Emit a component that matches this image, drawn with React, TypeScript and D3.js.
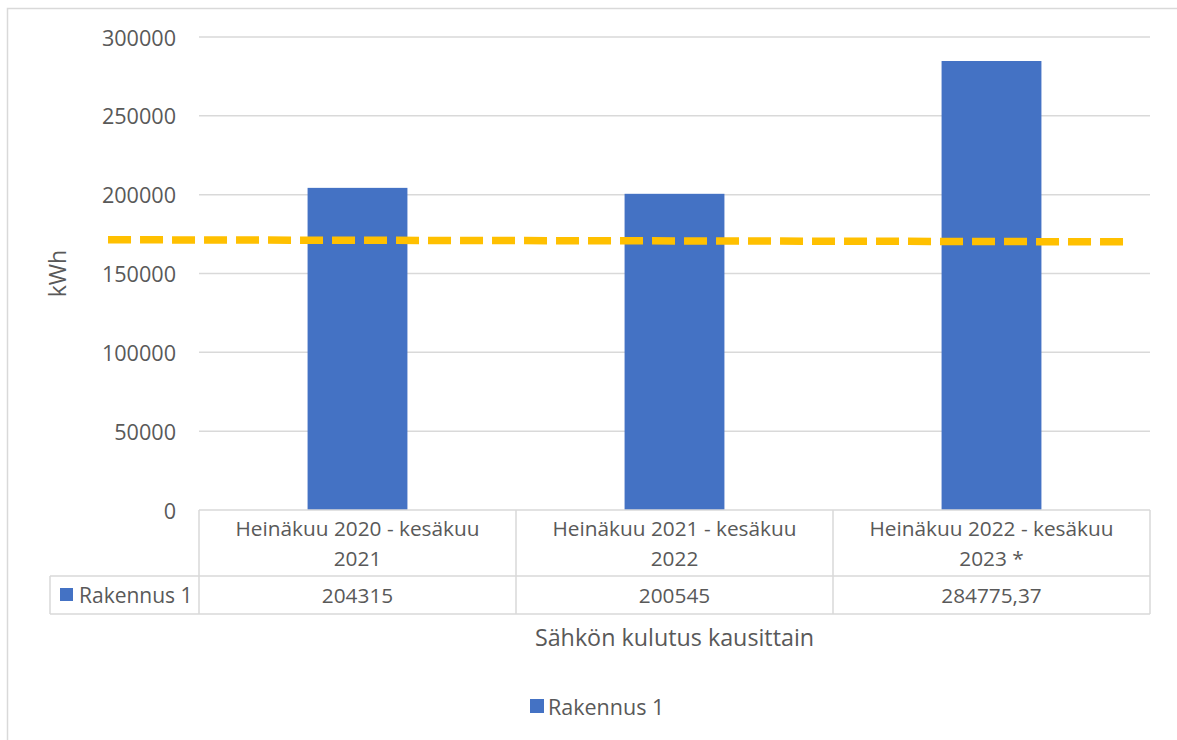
import React from "react";
import * as d3 from "d3";

const categories = [
  "Heinäkuu 2020 - kesäkuu 2021",
  "Heinäkuu 2021 - kesäkuu 2022",
  "Heinäkuu 2022 - kesäkuu 2023 *",
];
const seriesName = "Rakennus 1";
const values = [204315, 200545, 284775.37];
const valueLabels = ["204315", "200545", "284775,37"];
const yTicks = [0, 50000, 100000, 150000, 200000, 250000, 300000];
// dashed reference line: positions in category-index units
const refLine = [
  { pos: -0.787, value: 171400 },
  { pos: 2.418, value: 170100 },
];
const yTitle = "kWh";
const xTitle = "Sähkön kulutus kausittain";

const W = 1177;
const H = 740;
const FONT = "'Open Sans', 'Noto Sans', sans-serif";
const TXT = "#595959";
const GRID = "#d9d9d9";
const BLUE = "#4472C4";
const GOLD = "#FFC000";

export default function App() {
  const plotL = 199;
  const plotR = 1150;
  const plotT = 37;
  const plotB = 510;
  const x = d3
    .scaleBand<string>()
    .domain(categories)
    .range([plotL, plotR])
    .paddingInner(0.685)
    .paddingOuter(0.3425);
  const cols = d3.scaleBand<string>().domain(categories).range([plotL, plotR]).padding(0);
  const y = d3.scaleLinear().domain([0, 300000]).range([plotB, plotT]);
  const center = (i: number) => x(categories[i])! + x.bandwidth() / 2;
  const xLin = d3.scaleLinear().domain([0, 2]).range([center(0), center(2)]);
  const line = d3
    .line<{ pos: number; value: number }>()
    .x((d) => xLin(d.pos))
    .y((d) => y(d.value));

  const headerBottom = 576;
  const tableBottom = 614;
  const tableLeft = 50;

  const wrap = (s: string) => {
    const parts = s.split(" ");
    const idx = parts.indexOf("kesäkuu");
    return [parts.slice(0, idx + 1).join(" "), parts.slice(idx + 1).join(" ")];
  };

  return (
    <svg
      width={W}
      height={H}
      style={{ position: "absolute", left: 0, top: 0, background: "#fff" }}
      fontFamily={FONT}
    >
      <rect x={0} y={0} width={W} height={H} fill="#fff" />
      {/* chart border */}
      <path d={`M7.5,${H + 5} V8.5 H${W + 5}`} fill="none" stroke={GRID} strokeWidth={1.5} />

      {/* gridlines */}
      {yTicks.filter((t) => t > 0).map((t) => (
        <line key={t} x1={plotL} x2={plotR} y1={y(t)} y2={y(t)} stroke={GRID} strokeWidth={1.5} />
      ))}
      {/* y tick labels */}
      {yTicks.map((t) => (
        <text
          key={t}
          x={176}
          y={y(t)}
          textAnchor="end"
          dominantBaseline="central"
          fontSize={21.6}
          fill={TXT}
        >
          {t}
        </text>
      ))}
      <text
        transform={`translate(57,${(plotT + plotB) / 2}) rotate(-90)`}
        textAnchor="middle"
        dominantBaseline="central"
        fontSize={23}
        fill={TXT}
      >
        {yTitle}
      </text>

      {/* bars */}
      {categories.map((c, i) => (
        <rect key={c} x={x(c)} y={y(values[i])} width={x.bandwidth()} height={y(0) - y(values[i])} fill={BLUE} />
      ))}

      {/* dashed line */}
      <path d={line(refLine) || ""} fill="none" stroke={GOLD} strokeWidth={7.5} strokeDasharray="23 9" />

      {/* data table */}
      <g stroke={GRID} strokeWidth={1.5} fill="none">
        <line x1={plotL} x2={plotR} y1={plotB} y2={plotB} />
        <line x1={tableLeft} x2={plotR} y1={headerBottom} y2={headerBottom} />
        <line x1={tableLeft} x2={plotR} y1={tableBottom} y2={tableBottom} />
        <line x1={tableLeft} x2={tableLeft} y1={headerBottom} y2={tableBottom} />
        {categories.map((c) => (
          <line key={c} x1={cols(c)} x2={cols(c)} y1={plotB} y2={tableBottom} />
        ))}
        <line x1={plotR} x2={plotR} y1={plotB} y2={tableBottom} />
      </g>
      {categories.map((c, i) => {
        const cx = cols(c)! + cols.bandwidth() / 2;
        const [l1, l2] = wrap(c);
        return (
          <g key={c} fontSize={20.8} fill={TXT} textAnchor="middle">
            <text x={cx} y={528} dominantBaseline="central">{l1}</text>
            <text x={cx} y={558} dominantBaseline="central">{l2}</text>
            <text x={cx} y={595} dominantBaseline="central">{valueLabels[i]}</text>
          </g>
        );
      })}
      <rect x={60} y={588} width={13} height={13} fill={BLUE} />
      <text x={79} y={595} dominantBaseline="central" fontSize={21} fill={TXT}>
        {seriesName}
      </text>

      {/* x title */}
      <text x={(plotL + plotR) / 2} y={637} textAnchor="middle" dominantBaseline="central" fontSize={23.3} fill={TXT}>
        {xTitle}
      </text>

      {/* legend */}
      <rect x={530} y={699} width={14} height={14} fill={BLUE} />
      <text x={548} y={706} dominantBaseline="central" fontSize={21.5} fill={TXT}>
        {seriesName}
      </text>
    </svg>
  );
}
